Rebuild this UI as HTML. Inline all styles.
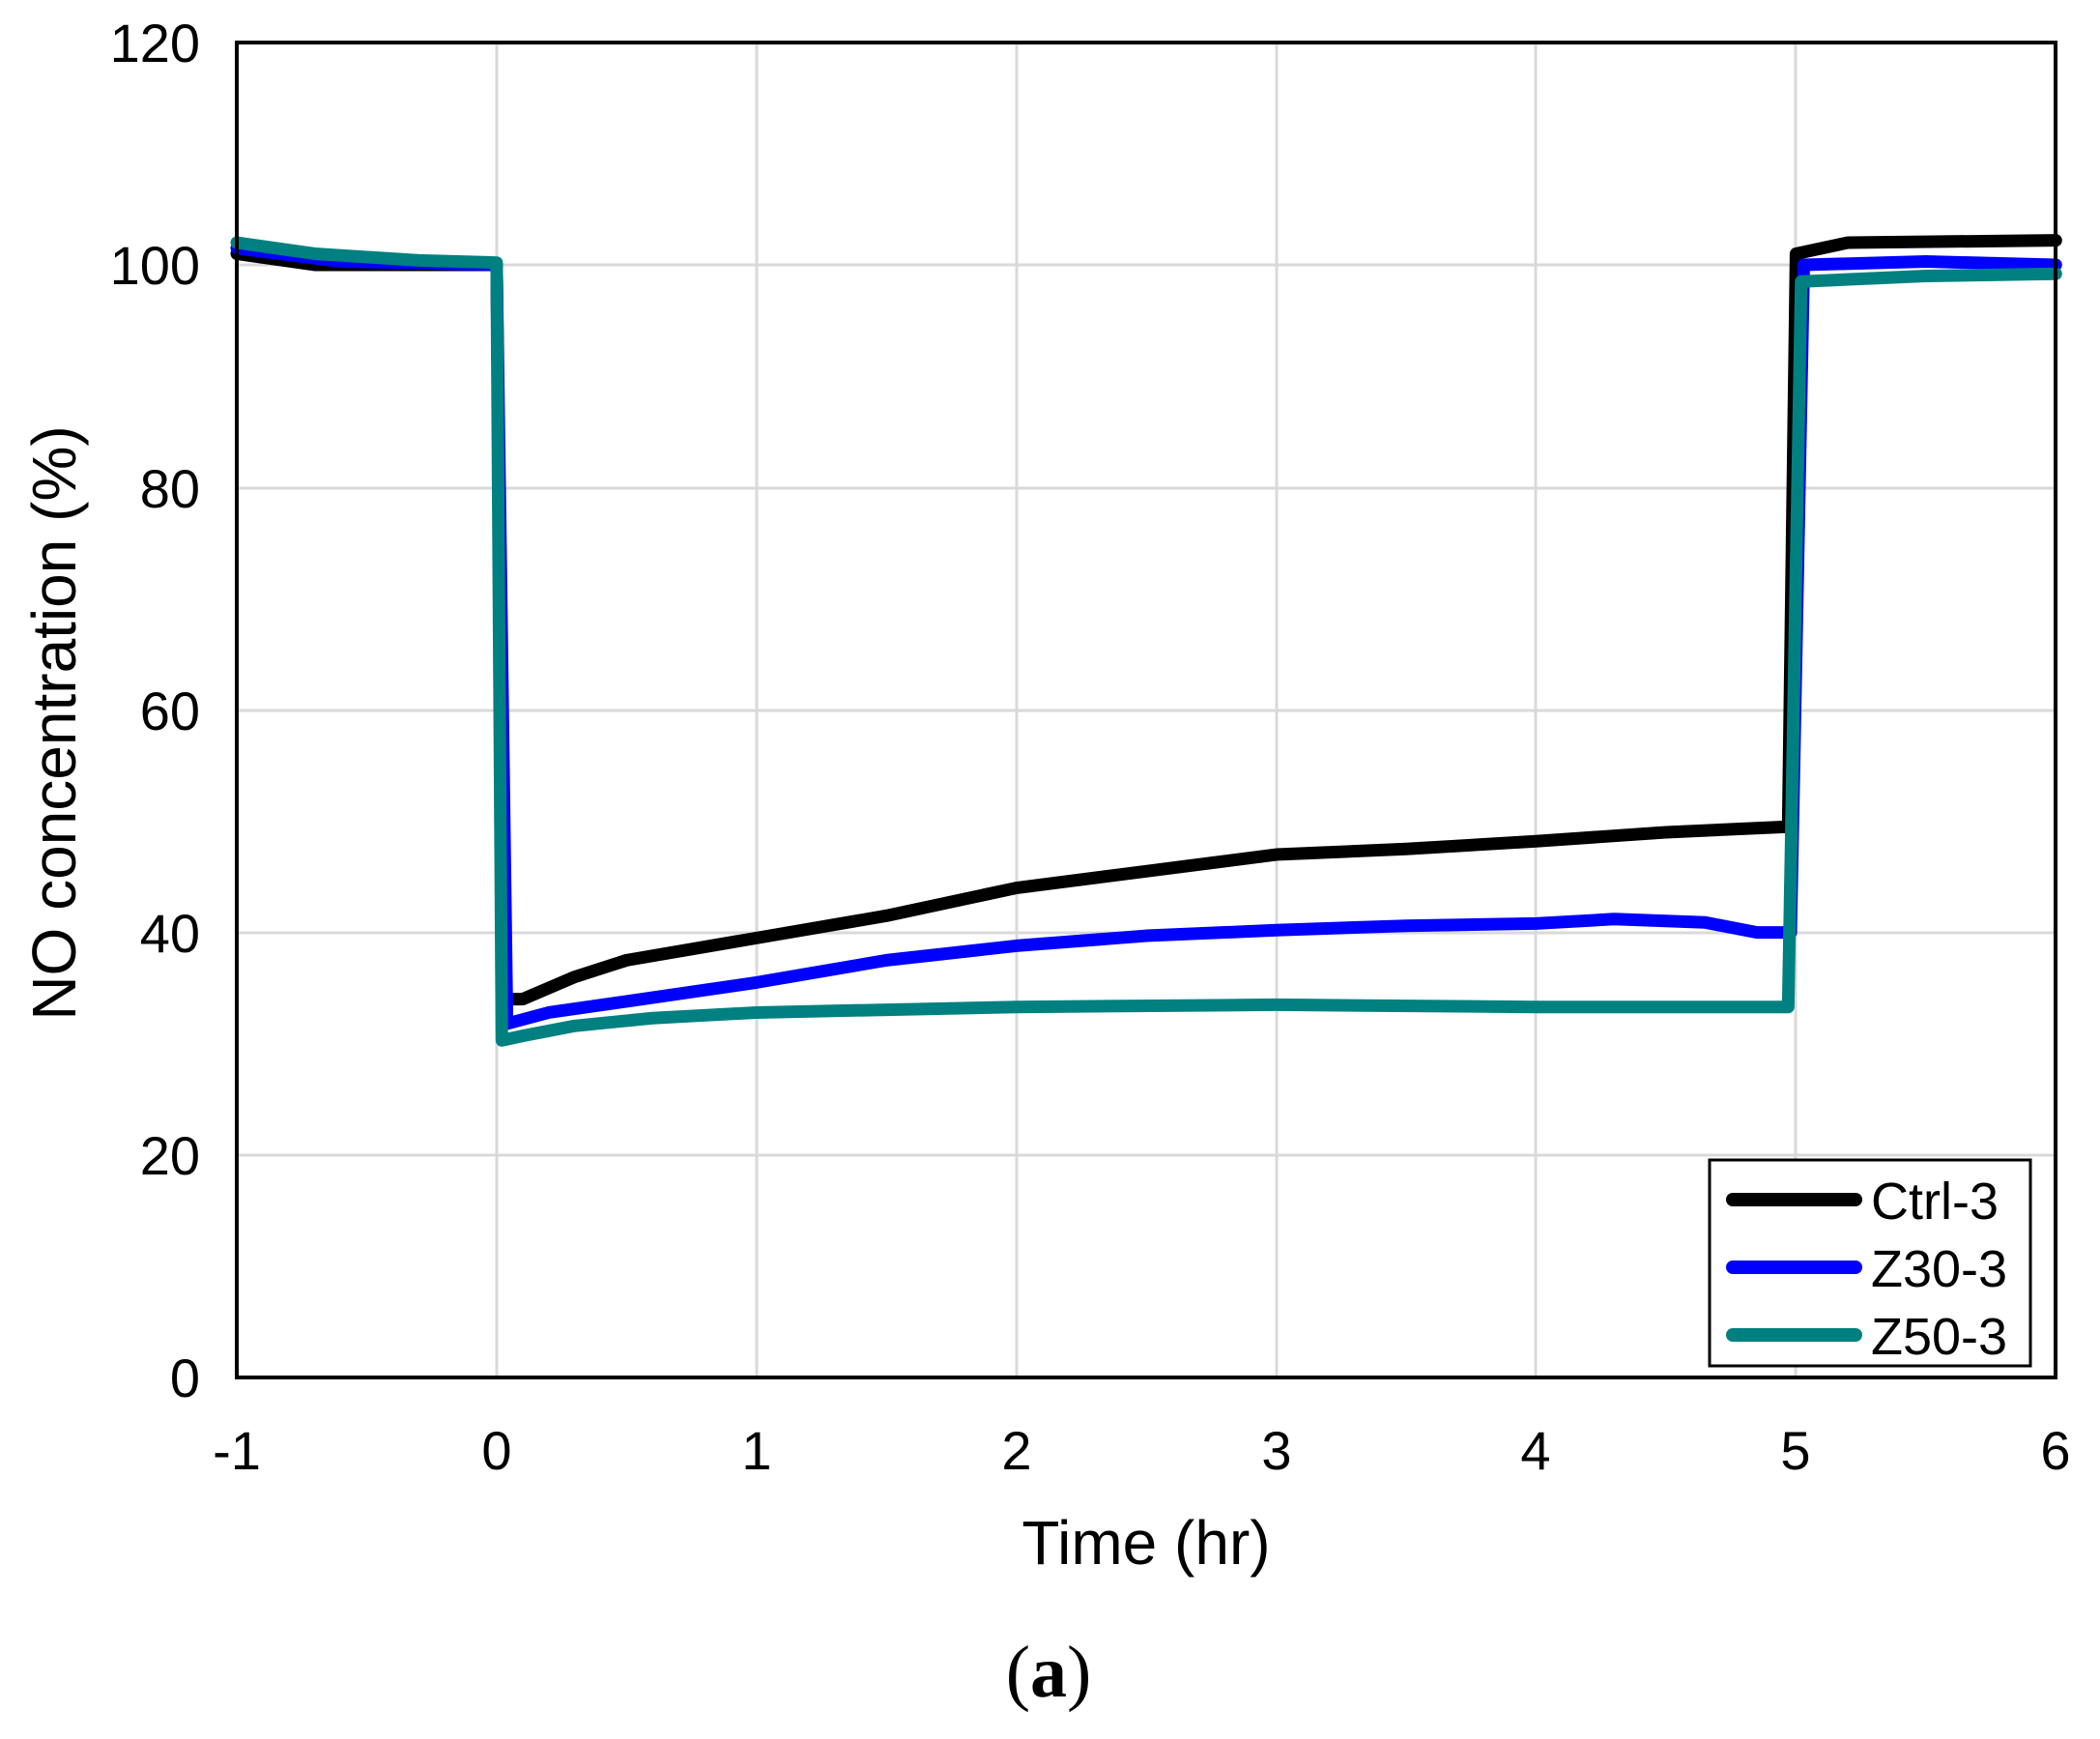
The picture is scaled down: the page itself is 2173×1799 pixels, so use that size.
<!DOCTYPE html>
<html><head><meta charset="utf-8"><style>
html,body{margin:0;padding:0;background:#fff;}
svg{display:block;}
text{font-family:"Liberation Sans",sans-serif;fill:#000;}
</style></head><body>
<svg width="2173" height="1799" viewBox="0 0 2173 1799" xmlns="http://www.w3.org/2000/svg">
<rect width="2173" height="1799" fill="#fff"/>
<g stroke="#d9d9d9" stroke-width="3">
<line x1="514" y1="44" x2="514" y2="1425"/>
<line x1="783" y1="44" x2="783" y2="1425"/>
<line x1="1052" y1="44" x2="1052" y2="1425"/>
<line x1="1321" y1="44" x2="1321" y2="1425"/>
<line x1="1589" y1="44" x2="1589" y2="1425"/>
<line x1="1858" y1="44" x2="1858" y2="1425"/>
<line x1="245" y1="274" x2="2127" y2="274"/>
<line x1="245" y1="505" x2="2127" y2="505"/>
<line x1="245" y1="735" x2="2127" y2="735"/>
<line x1="245" y1="965" x2="2127" y2="965"/>
<line x1="245" y1="1195" x2="2127" y2="1195"/>
</g>
<g transform="translate(513.9,1425) scale(268.9,-11.51)" fill="none" stroke-linejoin="round" stroke-linecap="round">
<polyline vector-effect="non-scaling-stroke" stroke="#000" stroke-width="13" points="-1,101 -0.7,100 0,100 0.03,34 0.1,34 0.3,36 0.5,37.5 1,39.5 1.5,41.5 2,44 2.5,45.5 3,47 3.5,47.5 4,48.2 4.5,49 4.97,49.5 5,101 5.2,102 6,102.2"/>
<polyline vector-effect="non-scaling-stroke" stroke="#0000ff" stroke-width="13" points="-1,101.5 -0.6,100.3 0,100 0.04,31.8 0.2,32.8 0.5,33.8 1,35.5 1.5,37.5 2,38.8 2.5,39.7 3,40.2 3.5,40.6 4,40.8 4.3,41.2 4.65,40.9 4.85,40 4.98,40 5.03,100 5.5,100.3 6,100"/>
<polyline vector-effect="non-scaling-stroke" stroke="#008080" stroke-width="13" points="-1,102 -0.7,101 -0.3,100.4 0,100.2 0.02,30.3 0.1,30.7 0.3,31.6 0.6,32.3 1,32.8 2,33.3 3,33.5 4,33.3 4.97,33.3 5.02,98.5 5.5,99 6,99.2"/>
</g>
<rect x="245" y="44" width="1882" height="1381" fill="none" stroke="#000" stroke-width="4"/>
<rect x="1769" y="1200" width="332" height="213" fill="#fff" stroke="#000" stroke-width="3"/>
<g stroke-width="14" stroke-linecap="round">
<line x1="1793" y1="1241" x2="1920" y2="1241" stroke="#000"/>
<line x1="1793" y1="1311" x2="1920" y2="1311" stroke="#0000ff"/>
<line x1="1793" y1="1381" x2="1920" y2="1381" stroke="#008080"/>
</g>
<g font-size="54">
<text x="1936" y="1261">Ctrl-3</text>
<text x="1936" y="1331">Z30-3</text>
<text x="1936" y="1401">Z50-3</text>
</g>
<g font-size="56" text-anchor="end">
<text x="207" y="64">120</text>
<text x="207" y="294">100</text>
<text x="207" y="525">80</text>
<text x="207" y="755">60</text>
<text x="207" y="985">40</text>
<text x="207" y="1215">20</text>
<text x="207" y="1445">0</text>
</g>
<g font-size="56" text-anchor="middle">
<text x="245" y="1520">-1</text>
<text x="514" y="1520">0</text>
<text x="783" y="1520">1</text>
<text x="1052" y="1520">2</text>
<text x="1321" y="1520">3</text>
<text x="1589" y="1520">4</text>
<text x="1858" y="1520">5</text>
<text x="2127" y="1520">6</text>
</g>
<text x="1186" y="1618" font-size="64" text-anchor="middle">Time (hr)</text>
<text transform="translate(78,748) rotate(-90)" font-size="64" text-anchor="middle">NO concentration (%)</text>
<text x="1085" y="1755" font-size="76" text-anchor="middle" style="font-family:'Liberation Serif',serif;">(<tspan font-weight="bold">a</tspan>)</text>
</svg>
</body></html>
